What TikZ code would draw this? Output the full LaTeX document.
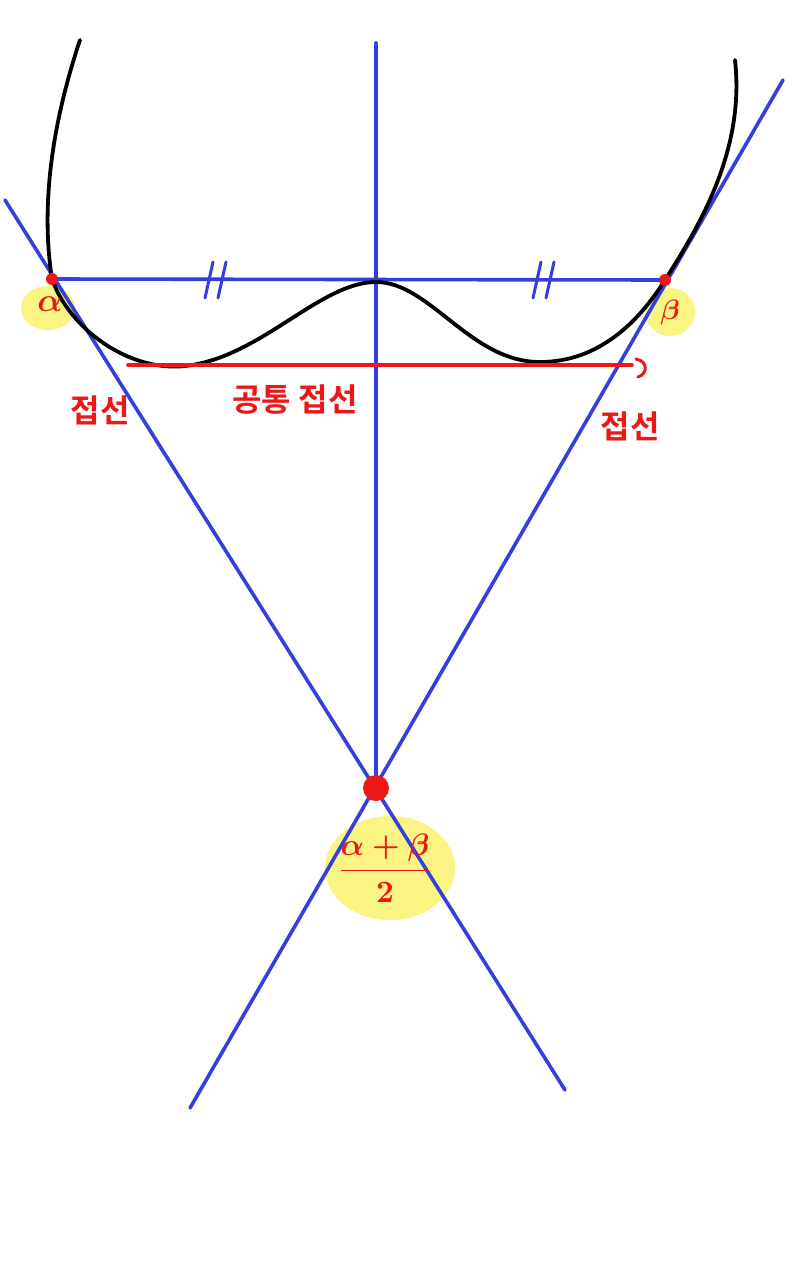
\documentclass[tikz,border=0pt]{standalone}
\usepackage{fontspec}
\newfontfamily\kr{Noto Sans CJK KR}[BoldFont={* Bold}]
\setmainfont{DejaVu Sans}
\definecolor{pblue}{RGB}{52,64,222}
\definecolor{pred}{RGB}{236,24,24}
\definecolor{pyel}{RGB}{250,245,130}
\tikzset{
  bl/.style={pblue,line width=3.6pt,line cap=round},
  rd/.style={pred,line width=3.6pt,line cap=round},
  lbl/.style={text=pred,font=\kr\bfseries\fontsize{32}{34}\selectfont,inner sep=0pt},
  ml/.style={text=pred,inner sep=0pt,font=\boldmath},
}
\begin{document}
\begin{tikzpicture}[x=1pt,y=-1pt]
\useasboundingbox (0,0) rectangle (800,1280);
\fill[white] (0,0) rectangle (800,1280);
% coordinates
\coordinate (A) at (52,279);
\coordinate (B) at (665,280);
\coordinate (P) at (376,788);
\coordinate (vtop) at (376,43);
\coordinate (Ltop) at (5,200);
\coordinate (Lbot) at (565,1090);
\coordinate (Rtop) at (783,80);
\coordinate (Rbot) at (190,1108);
\coordinate (cl) at (128,365);
\coordinate (cr) at (632,365);
% highlights
\fill[pyel] (48,308) ellipse (27 and 22);
\fill[pyel] (670,312) ellipse (25 and 24);
\fill[pyel] (390,868) ellipse (65 and 52);
% blue lines
\draw[bl] (vtop) -- (P);
\draw[bl] (A) -- (B);
\draw[bl] (Ltop) -- (Lbot);
\draw[bl] (Rtop) -- (Rbot);
% tick marks
\draw[bl,line width=3pt] (205,298) -- (213,262) (218,298) -- (226,262);
\draw[bl,line width=3pt] (533,298) -- (541,262) (546,298) -- (554,262);
% curve
\draw[black,line width=3.8pt,line cap=round,line join=round]
  (80,40) .. controls (60,100) and (38,190) .. (52,279)
  .. controls (70,330) and (130,372) .. (185,366)
  .. controls (260,358) and (320,282) .. (376,282)
  .. controls (430,282) and (470,362) .. (540,362)
  .. controls (600,362) and (640,320) .. (665,280)
  .. controls (700,225) and (745,150) .. (735,60);
% red common tangent
\draw[rd] (cl) -- (cr);
\draw[rd,line width=3pt] (636,359) .. controls (648,361) and (648,374) .. (638,377);
% red dots
\fill[pred] (A) circle (6);
\fill[pred] (B) circle (6);
\fill[pred] (P) circle (13);
% labels
\node[ml,scale=3.3] (la) at (50,304) {$\alpha$};
\node[ml,scale=2.8] (lb) at (670,312) {$\beta$};
\node[ml,scale=3.1] (lf) at (385,868) {$\displaystyle\frac{\alpha+\beta}{2}$};
\node[lbl] (ct) at (295,400) {공통 접선};
\node[lbl] (tl) at (100,410) {접선};
\node[lbl] (tr) at (630,426) {접선};
\end{tikzpicture}
\end{document}
